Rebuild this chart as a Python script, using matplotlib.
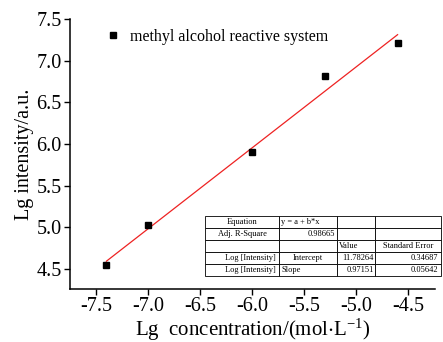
import numpy as np
import matplotlib
matplotlib.use("Agg")
import matplotlib.pyplot as plt

plt.rcParams['font.family'] = ['Liberation Serif', 'DejaVu Serif']
plt.rcParams['mathtext.fontset'] = 'stix'

# measured points
lg_conc = np.array([-7.4, -7.0, -6.0, -5.3, -4.6])
lg_int = np.array([4.55, 5.03, 5.90, 6.82, 7.21])

# linear fit results
intercept = 11.78264
slope = 0.97151
intercept_err = 0.34687
slope_err = 0.05642
adj_r2 = 0.98665

xticks = [-7.5, -7.0, -6.5, -6.0, -5.5, -5.0, -4.5]
yticks = [4.5, 5.0, 5.5, 6.0, 6.5, 7.0, 7.5]

fig = plt.figure(figsize=(4.43, 3.42), dpi=100)
ax = fig.add_axes([0.158, 0.155, 0.824, 0.789])

xfit = np.array([lg_conc.min(), lg_conc.max()])
ax.plot(xfit, intercept + slope * xfit, color='#ee2222', lw=0.9, zorder=2)
ax.plot(lg_conc, lg_int, 's', color='black', ms=4.3, zorder=3,
        label='methyl alcohol reactive system')

ax.set_xlim(-7.75, -4.24)
ax.set_ylim(4.26, 7.5)
ax.set_xticks(xticks)
ax.set_yticks(yticks)
ax.set_xticklabels([f'{v:.1f}' for v in xticks])
ax.set_yticklabels([f'{v:.1f}' for v in yticks])
ax.tick_params(direction='out', length=4, width=1, labelsize=14.5, pad=2)
for s in ('top', 'right'):
    ax.spines[s].set_visible(False)
for s in ('left', 'bottom'):
    ax.spines[s].set_linewidth(1.1)

ax.set_xlabel(r'Lg  concentration/(mol$\cdot$L$^{\mathregular{-1}}$)', fontsize=15, labelpad=0)
ax.set_ylabel('Lg intensity/a.u.', fontsize=14.5, labelpad=2)

ax.legend(loc='upper left', bbox_to_anchor=(0.063, 1.012), frameon=False,
          fontsize=11.5, handlelength=0.9, handletextpad=0.6, borderpad=0.3)

# fit summary table
cells = [
    ['Equation', 'y = a + b*x', '', ''],
    ['Adj. R-Square', f'{adj_r2:.5f}', '', ''],
    ['', '', 'Value', 'Standard Error'],
    ['Log [Intensity]', 'Intercept', f'{intercept:.5f}', f'{intercept_err:.5f}'],
    ['Log [Intensity]', 'Slope', f'{slope:.5f}', f'{slope_err:.5f}'],
]
aligns = [
    ['center', 'left', 'left', 'left'],
    ['center', 'right', 'left', 'left'],
    ['center', 'center', 'left', 'center'],
    ['right', 'center', 'right', 'right'],
    ['right', 'left', 'right', 'right'],
]
widths = [74, 58, 38, 66]
tot = sum(widths)
tbl = ax.table(cellText=cells, colWidths=[w / tot for w in widths],
               bbox=[0.370, 0.048, tot / 365, 0.222], cellLoc='center')
tbl.auto_set_font_size(False)
tbl.set_fontsize(6)
for (r, c), cell in tbl.get_celld().items():
    cell.set_linewidth(0.6)
    cell.set_edgecolor('black')
    cell.set_facecolor('white')
    cell.PAD = 0.04
    cell.get_text().set_ha(aligns[r][c])
    cell._loc = aligns[r][c]
tbl.set_clip_on(False)

fig.savefig('out.png', dpi=100, facecolor='white')
